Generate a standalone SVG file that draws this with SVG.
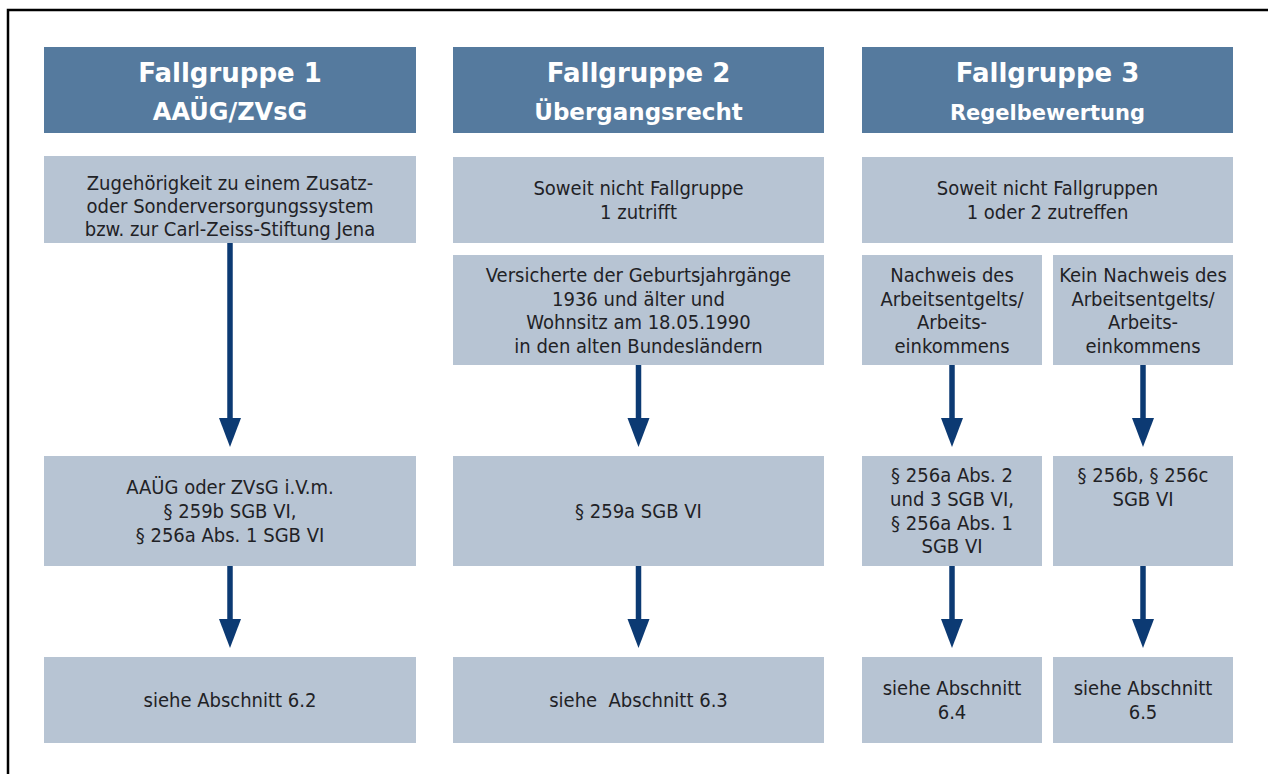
<svg xmlns="http://www.w3.org/2000/svg" width="1268" height="774" viewBox="0 0 1268 774">
<defs>
<style>
.hd{fill:#557a9e}
.bx{fill:#b7c4d3}
.ht{font-family:"DejaVu Sans",sans-serif;font-weight:bold;fill:#ffffff;text-anchor:middle}
.t{font-family:"DejaVu Sans Condensed","DejaVu Sans",sans-serif;font-size:20px;fill:#1f2226;text-anchor:middle}
.ar{stroke:#0c3a73;stroke-width:5.5;fill:none;marker-end:url(#ah)}
</style>
<marker id="ah" markerUnits="userSpaceOnUse" markerWidth="30" markerHeight="24" refX="12" refY="11" orient="auto" viewBox="0 0 30 22">
<path d="M0,0 L29,11 L0,22 Z" fill="#0c3a73"/>
</marker>
</defs>
<rect x="0" y="0" width="1268" height="774" fill="#ffffff"/>
<rect x="8" y="10" width="1300" height="800" fill="none" stroke="#000000" stroke-width="2.5"/>

<g id="header1">
<rect class="hd" x="44" y="47" width="372" height="86"/>
<text class="ht" x="230" y="82" font-size="26">Fallgruppe 1</text>
<text class="ht" x="230" y="120" font-size="24">AAÜG/ZVsG</text>
</g>
<g id="header2">
<rect class="hd" x="453" y="47" width="371" height="86"/>
<text class="ht" x="638.5" y="82" font-size="26">Fallgruppe 2</text>
<text class="ht" x="638.5" y="120" font-size="23">Übergangsrecht</text>
</g>
<g id="header3">
<rect class="hd" x="862" y="47" width="371" height="86"/>
<text class="ht" x="1047.5" y="82" font-size="26">Fallgruppe 3</text>
<text class="ht" x="1047.5" y="120" font-size="21">Regelbewertung</text>
</g>

<g id="cond1">
<rect class="bx" x="44" y="156" width="372" height="87"/>
<text class="t" x="230" y="190">Zugehörigkeit zu einem Zusatz-</text>
<text class="t" x="230" y="213">oder Sonderversorgungssystem</text>
<text class="t" x="230" y="236">bzw. zur Carl-Zeiss-Stiftung Jena</text>
</g>
<g id="cond2">
<rect class="bx" x="453" y="157" width="371" height="86"/>
<text class="t" x="638.5" y="195">Soweit nicht Fallgruppe</text>
<text class="t" x="638.5" y="219">1 zutrifft</text>
</g>
<g id="cond3">
<rect class="bx" x="862" y="157" width="371" height="86"/>
<text class="t" x="1047.5" y="195">Soweit nicht Fallgruppen</text>
<text class="t" x="1047.5" y="219">1 oder 2 zutreffen</text>
</g>
<g id="cond2b">
<rect class="bx" x="453" y="255" width="371" height="110"/>
<text class="t" x="638.5" y="282">Versicherte der Geburtsjahrgänge</text>
<text class="t" x="638.5" y="306">1936 und älter und</text>
<text class="t" x="638.5" y="329">Wohnsitz am 18.05.1990</text>
<text class="t" x="638.5" y="353">in den alten Bundesländern</text>
</g>
<g id="cond3a">
<rect class="bx" x="862" y="255" width="180" height="110"/>
<text class="t" x="952" y="282">Nachweis des</text>
<text class="t" x="952" y="306">Arbeitsentgelts/</text>
<text class="t" x="952" y="329">Arbeits-</text>
<text class="t" x="952" y="353">einkommens</text>
</g>
<g id="cond3b">
<rect class="bx" x="1053" y="255" width="180" height="110"/>
<text class="t" x="1143" y="282">Kein Nachweis des</text>
<text class="t" x="1143" y="306">Arbeitsentgelts/</text>
<text class="t" x="1143" y="329">Arbeits-</text>
<text class="t" x="1143" y="353">einkommens</text>
</g>

<g id="law1">
<rect class="bx" x="44" y="456" width="372" height="110"/>
<text class="t" x="230" y="494">AAÜG oder ZVsG i.V.m.</text>
<text class="t" x="230" y="518">§ 259b SGB VI,</text>
<text class="t" x="230" y="542">§ 256a Abs. 1 SGB VI</text>
</g>
<g id="law2">
<rect class="bx" x="453" y="456" width="371" height="110"/>
<text class="t" x="638.5" y="518">§ 259a SGB VI</text>
</g>
<g id="law3a">
<rect class="bx" x="862" y="456" width="180" height="110"/>
<text class="t" x="952" y="482">§ 256a Abs. 2</text>
<text class="t" x="952" y="506">und 3 SGB VI,</text>
<text class="t" x="952" y="530">§ 256a Abs. 1</text>
<text class="t" x="952" y="553">SGB VI</text>
</g>
<g id="law3b">
<rect class="bx" x="1053" y="456" width="180" height="110"/>
<text class="t" x="1143" y="482">§ 256b, § 256c</text>
<text class="t" x="1143" y="506">SGB VI</text>
</g>

<g id="see1">
<rect class="bx" x="44" y="657" width="372" height="86"/>
<text class="t" x="230" y="707">siehe Abschnitt 6.2</text>
</g>
<g id="see2">
<rect class="bx" x="453" y="657" width="371" height="86"/>
<text class="t" x="638.5" y="707" xml:space="preserve">siehe  Abschnitt 6.3</text>
</g>
<g id="see3a">
<rect class="bx" x="862" y="657" width="180" height="86"/>
<text class="t" x="952" y="695">siehe Abschnitt</text>
<text class="t" x="952" y="719">6.4</text>
</g>
<g id="see3b">
<rect class="bx" x="1053" y="657" width="180" height="86"/>
<text class="t" x="1143" y="695">siehe Abschnitt</text>
<text class="t" x="1143" y="719">6.5</text>
</g>

<g id="connectors">
<line class="ar" x1="230" y1="243" x2="230" y2="430"/>
<line class="ar" x1="638.5" y1="365" x2="638.5" y2="430"/>
<line class="ar" x1="952" y1="365" x2="952" y2="430"/>
<line class="ar" x1="1143" y1="365" x2="1143" y2="430"/>
<line class="ar" x1="230" y1="566" x2="230" y2="631"/>
<line class="ar" x1="638.5" y1="566" x2="638.5" y2="631"/>
<line class="ar" x1="952" y1="566" x2="952" y2="631"/>
<line class="ar" x1="1143" y1="566" x2="1143" y2="631"/>
</g>
</svg>
